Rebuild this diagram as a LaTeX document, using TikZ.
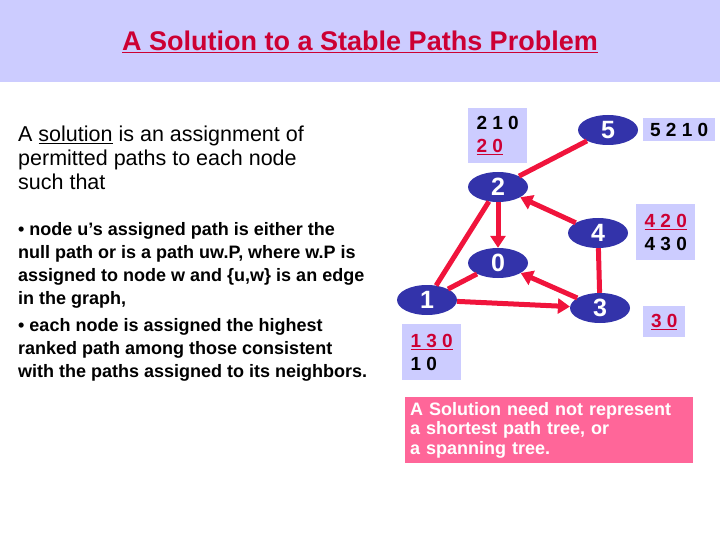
\documentclass[tikz,border=0pt]{standalone}
\usepackage{fontspec}
\setmainfont{Liberation Sans}
\usetikzlibrary{shapes.geometric,arrows.meta}
\definecolor{lav}{RGB}{204,204,255}
\definecolor{nblue}{RGB}{51,51,170}
\definecolor{ered}{RGB}{240,20,60}
\definecolor{pinkb}{RGB}{255,102,153}
\definecolor{tred}{RGB}{204,0,51}
\begin{document}
\begin{tikzpicture}[x=1pt,y=-1pt,
  gn/.style={ellipse,fill=nblue,minimum width=60pt,minimum height=30pt,inner sep=0pt,text=white,font=\bfseries\fontsize{25}{25}\selectfont},
  lb/.style={fill=lav,inner sep=4pt,font=\bfseries\fontsize{19}{23}\selectfont,align=left,anchor=north west},
  ed/.style={draw=ered,line width=5pt},
  ar/.style={ed,-{Triangle[length=12pt,width=15pt]}}]
\useasboundingbox (0,0) rectangle (720,540);
\fill[lav] (0,0) rectangle (720,82);
\node (title) at (360,42) {\bfseries\fontsize{27}{30}\selectfont\color{tred}\underline{A Solution to a Stable Paths Problem}};
\node[anchor=north west,align=left,inner sep=0pt,font=\fontsize{21.5}{24}\selectfont] (intro) at (18,126)
 {A \underline{solution} is an assignment of\\permitted paths to each node\\such that};
\node[anchor=north west,align=left,inner sep=0pt,font=\bfseries\fontsize{18}{23}\selectfont] (b1) at (18,222)
 {• node u’s assigned path is either the\\null path or is a path uw.P, where w.P is\\assigned to node w and \{u,w\} is an edge\\in the graph,};
\node[anchor=north west,align=left,inner sep=0pt,font=\bfseries\fontsize{18}{23}\selectfont] (b2) at (18,318)
 {• each node is assigned the highest\\ranked path among those consistent\\with the paths assigned to its neighbors.};
\node[gn] (n5) at (608,130) {5};
\node[gn] (n2) at (498,187) {2};
\node[gn] (n4) at (598,233) {4};
\node[gn] (n0) at (498,263) {0};
\node[gn] (n1) at (427,300) {1};
\node[gn] (n3) at (600,308) {3};
\draw[ed] (n5) -- (n2);
\draw[ed] (n2) -- (n1);
\draw[ed] (n1) -- (n0);
\draw[ed] (n4) -- (n3);
\draw[ar] (n2) -- (n0);
\draw[ar] (n4) -- (n2);
\draw[ar] (n1) -- (n3);
\draw[ar] (n3) -- (n0);
\node[lb,minimum width=59pt,minimum height=55pt] (p2) at (468,108) {2 1 0\\\color{tred}\underline{2 0}};
\node[lb,minimum width=72pt,minimum height=23pt,inner sep=2pt] (p5) at (643,118) {5 2 1 0};
\node[lb,minimum width=59pt,minimum height=56pt] (p4) at (636,204) {\color{tred}\underline{4 2 0}\\4 3 0};
\node[lb,minimum width=42pt,minimum height=31pt] (p3) at (643,306) {\color{tred}\underline{3 0}};
\node[lb,minimum width=59pt,minimum height=56pt] (p1) at (402,324) {\color{tred}\underline{1 3 0}\\1 0};
\node[fill=pinkb,anchor=north west,minimum height=63pt,text width=278pt,text=white,align=left,inner sep=5pt,font=\bfseries\fontsize{18}{19.5}\selectfont] (note) at (405,397)
 {A Solution need not represent\\a shortest path tree, or\\a spanning tree.};
\end{tikzpicture}
\end{document}
